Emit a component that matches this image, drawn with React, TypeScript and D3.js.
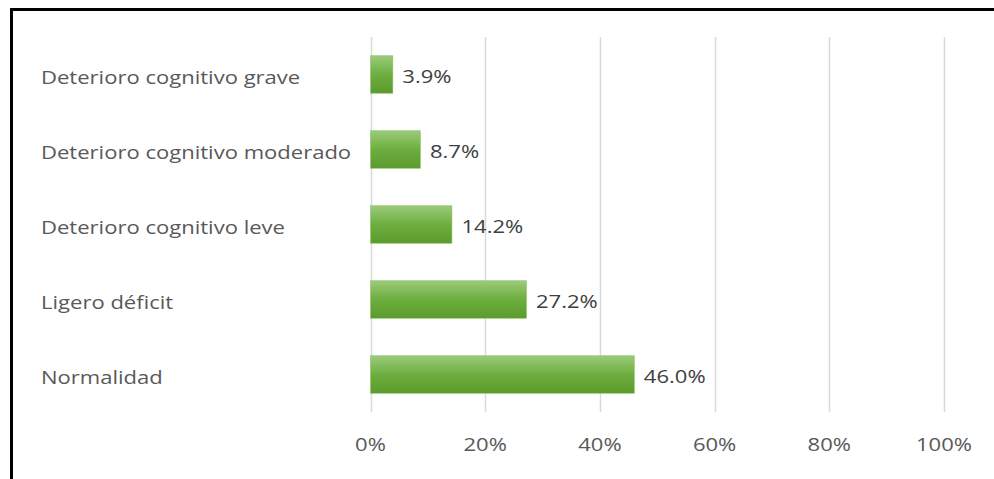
import React, { useEffect, useRef } from "react";
import * as d3 from "d3";

const categories = [
  "Deterioro cognitivo grave",
  "Deterioro cognitivo moderado",
  "Deterioro cognitivo leve",
  "Ligero déficit",
  "Normalidad",
];
const values = [3.9, 8.7, 14.2, 27.2, 46.0];
const tickValues = [0, 20, 40, 60, 80, 100];

const W = 994;
const H = 479;
const FONT = "'Open Sans', 'DejaVu Sans', sans-serif";
const FS = 17.5;
const SX = 1.26; // horizontal stretch of the wide label face

export default function App() {
  const ref = useRef<SVGSVGElement | null>(null);

  useEffect(() => {
    const svg = d3.select(ref.current);
    svg.selectAll("*").remove();

    const x = d3.scaleLinear().domain([0, 100]).range([370.5, 944]);
    const y = d3
      .scaleBand<string>()
      .domain(categories)
      .range([37, 412])
      .paddingInner(0.5)
      .paddingOuter(0.25);
    const cy = (c: string) => (y(c) as number) + y.bandwidth() / 2;

    const defs = svg.append("defs");
    const grad = defs
      .append("linearGradient")
      .attr("id", "barGrad")
      .attr("x1", 0)
      .attr("y1", 0)
      .attr("x2", 0)
      .attr("y2", 1);
    grad.append("stop").attr("offset", "0%").attr("stop-color", "#9ccb7b");
    grad.append("stop").attr("offset", "50%").attr("stop-color", "#6dae3f");
    grad.append("stop").attr("offset", "100%").attr("stop-color", "#5b9b2d");

    svg.append("rect").attr("width", W).attr("height", H).attr("fill", "#ffffff");

    // frame
    svg
      .append("path")
      .attr("d", `M11.5,${H} V9.5 H${W}`)
      .attr("fill", "none")
      .attr("stroke", "#000")
      .attr("stroke-width", 3);

    // gridlines
    svg
      .append("g")
      .selectAll("line")
      .data(tickValues)
      .join("line")
      .attr("x1", (d) => Math.round(x(d)) + 0.5)
      .attr("x2", (d) => Math.round(x(d)) + 0.5)
      .attr("y1", 37)
      .attr("y2", 412)
      .attr("stroke", "#d9d9d9")
      .attr("stroke-width", 1.5);

    // tick labels
    svg
      .append("g")
      .selectAll("text")
      .data(tickValues)
      .join("text")
      .attr("transform", (d) => `translate(${x(d)},451) scale(${SX},1)`)
      .attr("text-anchor", "middle")
      .attr("font-family", FONT)
      .attr("font-size", FS)
      .attr("fill", "#595959")
      .text((d) => `${d}%`);

    // category labels
    svg
      .append("g")
      .selectAll("text")
      .data(categories)
      .join("text")
      .attr("transform", (d) => `translate(41,${cy(d) + 9}) scale(${SX},1)`)
      .attr("font-family", FONT)
      .attr("font-size", FS)
      .attr("fill", "#595959")
      .text((d) => d);

    // bars
    svg
      .append("g")
      .selectAll("rect")
      .data(values)
      .join("rect")
      .attr("x", x(0))
      .attr("y", (_, i) => y(categories[i]) as number)
      .attr("width", (d) => x(d) - x(0))
      .attr("height", y.bandwidth())
      .attr("fill", "url(#barGrad)")
      .attr("stroke", "#8fc46c")
      .attr("stroke-width", 0.6);

    // value labels
    svg
      .append("g")
      .selectAll("text")
      .data(values)
      .join("text")
      .attr(
        "transform",
        (d, i) => `translate(${x(d) + 9.5},${cy(categories[i]) + 8}) scale(${SX},1)`
      )
      .attr("font-family", FONT)
      .attr("font-size", FS)
      .attr("fill", "#404040")
      .text((d) => `${d.toFixed(1)}%`);
  }, []);

  return (
    <svg
      ref={ref}
      width={W}
      height={H}
      style={{ position: "absolute", left: 0, top: 0, display: "block" }}
    />
  );
}
